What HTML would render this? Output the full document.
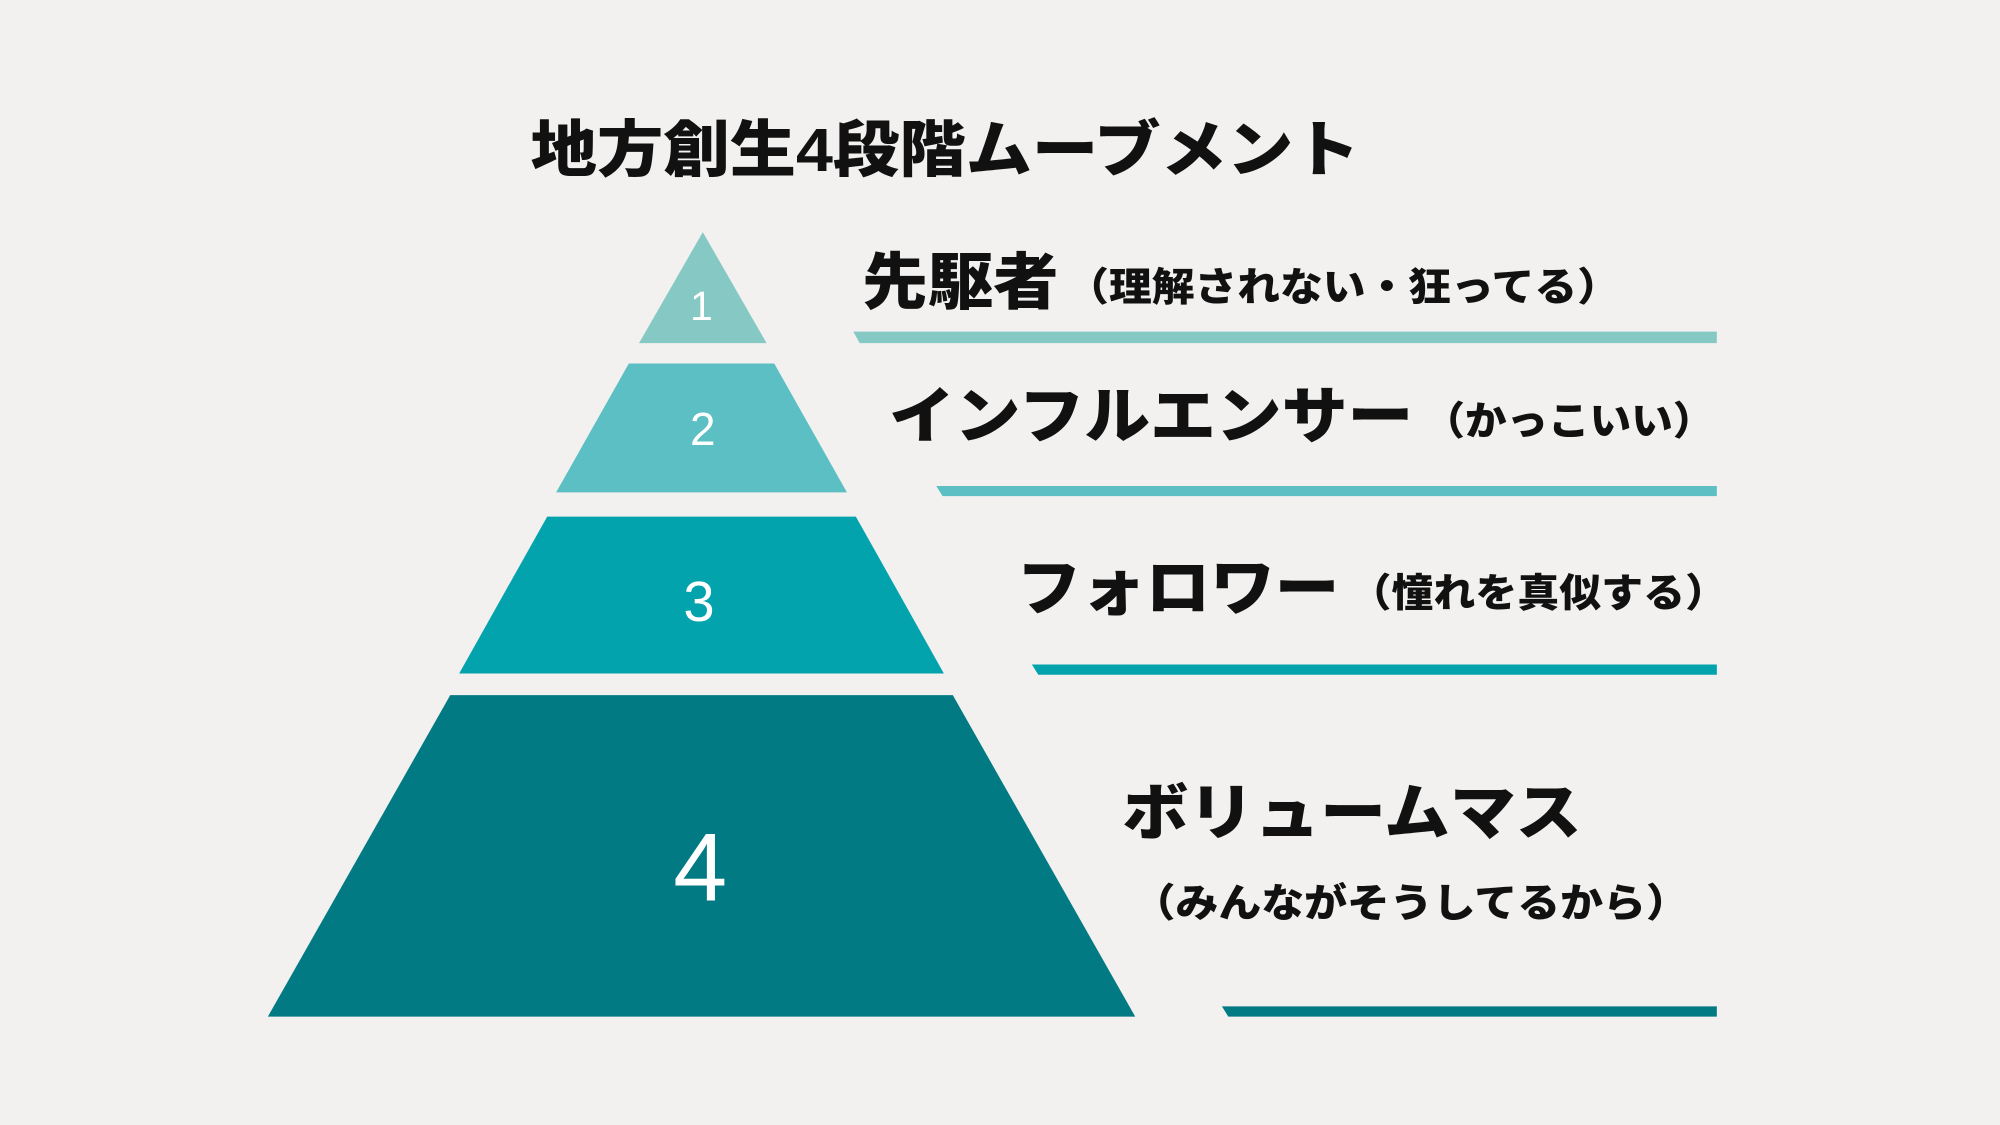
<!DOCTYPE html>
<html><head><meta charset="utf-8"><style>
html,body{margin:0;padding:0;background:#f2f1ef;}
svg{display:block;}
text{font-family:"Liberation Sans","Noto Sans CJK JP",sans-serif;}
.b{font-weight:900;fill:#111;}
.n{fill:#fff;text-anchor:middle;}
</style></head><body>
<svg width="2000" height="1125" viewBox="0 0 1568 882" xmlns="http://www.w3.org/2000/svg">
<rect width="1568" height="882" fill="#f2f1ef"/>
<text class="b" x="416" y="134" font-size="48" textLength="650" lengthAdjust="spacingAndGlyphs">地方創生4段階ムーブメント</text>
<polygon points="551,182 601,269 501,269" fill="#86c9c4"/>
<polygon points="493,285 607,285 664,386 436,386" fill="#5bbfc3"/>
<polygon points="429,405 671,405 740,528 360,528" fill="#03a3ae"/>
<polygon points="353,545 747,545 890,797 210,797" fill="#017a83"/>
<text class="n" x="550" y="251" font-size="32">1</text>
<text class="n" x="551" y="349" font-size="36">2</text>
<text class="n" x="548" y="487" font-size="44">3</text>
<text class="n" x="549" y="706" font-size="76">4</text>
<polygon points="669,260 1346,260 1346,269 674,269" fill="#86c9c4"/>
<polygon points="734,381 1346,381 1346,389 739,389" fill="#5bbfc3"/>
<polygon points="809,521 1346,521 1346,529 814,529" fill="#03a3ae"/>
<polygon points="958,789 1346,789 1346,797 963,797" fill="#017a83"/>
<text class="b" x="676" y="238" font-size="48" textLength="154" lengthAdjust="spacingAndGlyphs">先駆者</text>
<text class="b" x="836" y="236" font-size="31" textLength="434" lengthAdjust="spacingAndGlyphs">（理解されない・狂ってる）</text>
<text class="b" x="697" y="343" font-size="48" textLength="411" lengthAdjust="spacingAndGlyphs">インフルエンサー</text>
<text class="b" x="1116" y="341" font-size="31" textLength="228" lengthAdjust="spacingAndGlyphs">（かっこいい）</text>
<text class="b" x="797" y="478" font-size="48" textLength="253" lengthAdjust="spacingAndGlyphs">フォロワー</text>
<text class="b" x="1058" y="476" font-size="31" textLength="296" lengthAdjust="spacingAndGlyphs">（憧れを真似する）</text>
<text class="b" x="880" y="654" font-size="48" textLength="360" lengthAdjust="spacingAndGlyphs">ボリュームマス</text>
<text class="b" x="888" y="719" font-size="31" textLength="436" lengthAdjust="spacingAndGlyphs">（みんながそうしてるから）</text>
</svg>
</body></html>
